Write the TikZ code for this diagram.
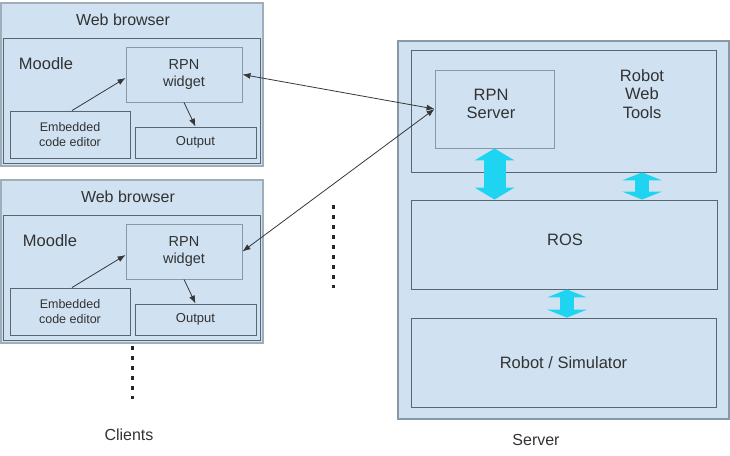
\documentclass[tikz,border=0pt]{standalone}
\usepackage{fontspec}
\setmainfont{Liberation Sans}
\usetikzlibrary{arrows.meta}
\definecolor{boxfill}{RGB}{208,226,242}
\definecolor{outerline}{RGB}{160,174,186}
\definecolor{innerline}{RGB}{88,102,116}
\definecolor{rpnline}{RGB}{135,152,166}
\definecolor{textc}{RGB}{50,50,50}
\definecolor{arrowc}{RGB}{55,55,55}
\definecolor{cyanc}{RGB}{30,212,240}
\begin{document}
\begin{tikzpicture}[x=1pt,y=-1pt,
  outerbox/.style={draw=outerline, fill=boxfill, line width=1.2pt, inner sep=0pt},
  innerbox/.style={draw=innerline, fill=boxfill, line width=0.9pt, inner sep=0pt, align=center, text=textc},
  lightbox/.style={draw=rpnline, fill=boxfill, line width=0.9pt, inner sep=0pt, align=center, text=textc},
  lbl/.style={text=textc, inner sep=0pt, align=center},
  link/.style={draw=arrowc, line width=0.8pt},
  tipA/.style={-{Latex[length=8pt,width=6pt]}},
  tipB/.style={{Latex[length=8pt,width=6pt]}-{Latex[length=8pt,width=6pt]}},
  dotline/.style={draw=black!85, line width=3pt, dash pattern=on 4pt off 6pt},
  bigarrow/.style={draw=cyanc, line width=#1},
]
\useasboundingbox (0,0) rectangle (730,455);

% ---------- clients ----------
\foreach \i/\o/\wx/\mx in {1/0/123/46, 2/177/128/50}{
  \node[outerbox, minimum width=262pt, minimum height=163pt] (wb\i) at (132, 84.5+\o) {};
  \node[lbl, font=\fontsize{16}{18}\selectfont] (wbl\i) at (\wx, 20+\o) {Web browser};
  \node[innerbox, minimum width=257pt, minimum height=125pt] (md\i) at (131.5, 100.5+\o) {};
  \node[lbl, font=\fontsize{16.5}{18}\selectfont] (mdl\i) at (\mx, 64+\o) {Moodle};
  \node[lightbox, minimum width=116pt, minimum height=55pt, font=\fontsize{14.5}{17}\selectfont] (rpn\i) at (184, 74.5+\o) {RPN\\widget};
  \node[innerbox, minimum width=120pt, minimum height=47pt, font=\fontsize{12.5}{15.5}\selectfont] (ed\i) at (70, 134.5+\o) {Embedded\\code editor};
  \node[innerbox, minimum width=121pt, minimum height=31pt, font=\fontsize{13}{15}\selectfont] (out\i) at (195.5, 142.5+\o) {Output};
  \draw[link, tipA] ([xshift=2pt]ed\i.north) -- ([yshift=-3.5pt]rpn\i.west);
  \draw[link, tipA] (rpn\i.south) -- (out\i.north);
}

% ---------- server ----------
\node[outerbox, draw=rpnline, minimum width=331pt, minimum height=378pt] (srv) at (563.5, 230) {};
\node[innerbox, minimum width=305pt, minimum height=122pt] (rwt) at (563.5, 111) {};
\node[lbl, font=\fontsize{16.5}{18.5}\selectfont] (rwtl) at (642, 94) {Robot\\Web\\Tools};
\node[lightbox, minimum width=119pt, minimum height=78pt, font=\fontsize{16.5}{18.5}\selectfont] (rpns) at (494.5, 109) {};
\node[lbl, font=\fontsize{16.5}{18.5}\selectfont] (rpnsl) at (491, 104) {RPN\\Server};
\node[innerbox, minimum width=306pt, minimum height=89pt] (ros) at (564, 244.5) {};
\node[lbl, font=\fontsize{16.5}{18.5}\selectfont] (rosl) at (565, 240) {ROS};
\node[innerbox, minimum width=305pt, minimum height=89pt, font=\fontsize{16.5}{18.5}\selectfont] (robot) at (563.5, 362.5) {Robot / Simulator};

% cyan double arrows
\coordinate (cx2) at (642, 0);
\draw[bigarrow=22pt, {Triangle[length=12pt,width=40pt,line width=0pt]}-{Triangle[length=12pt,width=40pt,line width=0pt]}]
  (rpns.south) -- (rpns.south |- ros.north);
\draw[bigarrow=14pt, {Triangle[length=8pt,width=40pt,line width=0pt]}-{Triangle[length=8pt,width=40pt,line width=0pt]}]
  (rwt.south -| cx2) -- (ros.north -| cx2);
\coordinate (cx3) at (567, 0);
\draw[bigarrow=14pt, {Triangle[length=8pt,width=40pt,line width=0pt]}-{Triangle[length=8pt,width=40pt,line width=0pt]}]
  (ros.south -| cx3) -- (robot.north -| cx3);

% connections client <-> server
\draw[link, tipB] (rpn1.east) -- (rpns.west);
\draw[link, tipB] (rpns.west) -- (rpn2.east);

% dotted continuation marks
\coordinate (d1a) at (333, 205);
\coordinate (d1b) at (333, 288);
\draw[dotline] (d1a) -- (d1b);
\coordinate (d2a) at (132, 346);
\coordinate (d2b) at (132, 399);
\draw[dotline] (d2a) -- (d2b);

% labels
\node[lbl, font=\fontsize{16}{18}\selectfont] (clients) at (129, 435) {Clients};
\node[lbl, font=\fontsize{16}{18}\selectfont] (server) at (536, 440) {Server};
\end{tikzpicture}
\end{document}
